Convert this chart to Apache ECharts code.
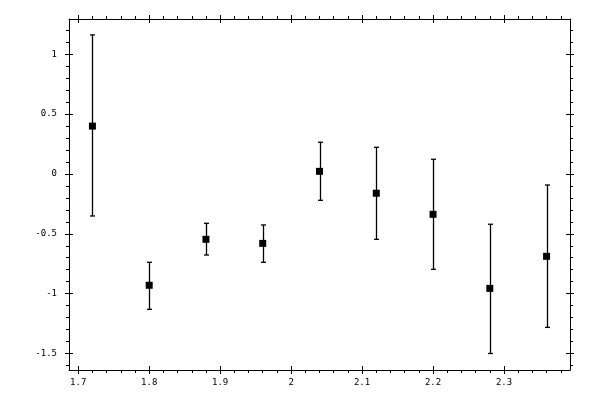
<!DOCTYPE html>
<html>
<head>
<meta charset="utf-8">
<script src="https://cdn.jsdelivr.net/npm/echarts@6/dist/echarts.min.js"></script>
<style>
  html, body { margin: 0; padding: 0; background: #fff; }
  #main { width: 600px; height: 400px; }
</style>
</head>
<body>
<div id="main"></div>
<script>
var xValues = [1.72, 1.80, 1.88, 1.96, 2.04, 2.12, 2.20, 2.28, 2.36];
var yValues = [0.40, -0.93, -0.546, -0.58, 0.022, -0.161, -0.337, -0.956, -0.688];
var yUpper  = [1.162, -0.738, -0.412, -0.426, 0.265, 0.223, 0.123, -0.42, -0.092];
var yLower  = [-0.351, -1.131, -0.677, -0.738, -0.22, -0.546, -0.797, -1.5, -1.282];

var xTicks = [1.7, 1.8, 1.9, 2.0, 2.1, 2.2, 2.3];
var yTicks = [-1.5, -1, -0.5, 0, 0.5, 1];
var xMinorTicks = [1.70, 1.72, 1.74, 1.76, 1.78, 1.80, 1.82, 1.84, 1.86, 1.88, 1.90, 1.92,
    1.94, 1.96, 1.98, 2.00, 2.02, 2.04, 2.06, 2.08, 2.10, 2.12, 2.14, 2.16, 2.18, 2.20,
    2.22, 2.24, 2.26, 2.28, 2.30, 2.32, 2.34, 2.36, 2.38];
var yMinorTicks = [-1.6, -1.5, -1.4, -1.3, -1.2, -1.1, -1.0, -0.9, -0.8, -0.7, -0.6, -0.5,
    -0.4, -0.3, -0.2, -0.1, 0, 0.1, 0.2, 0.3, 0.4, 0.5, 0.6, 0.7, 0.8, 0.9, 1.0, 1.1, 1.2];

var X_MIN = 1.687, X_MAX = 2.393;
var Y_MIN = -1.638, Y_MAX = 1.295;

var chart = echarts.init(document.getElementById('main'), null, {renderer: 'canvas'});

var labelFont = {
    color: '#000',
    fontFamily: 'DejaVu Sans Mono',
    fontSize: 9
};

// one axis = one set of ticks (major out / major in / minor out)
function xAx(pos, kind) {
    var ax = {
        type: 'value', position: pos, min: X_MIN, max: X_MAX,
        splitLine: {show: false},
        axisLine: {show: kind === 'major', onZero: false, lineStyle: {color: '#000', width: 1}},
        axisLabel: {show: false},
        axisTick: {
            show: true,
            inside: kind === 'in',
            length: kind === 'minor' ? 3 : 4,
            customValues: kind === 'minor' ? xMinorTicks : xTicks,
            lineStyle: {color: '#000', width: 1}
        }
    };
    if (kind === 'major' && pos === 'bottom') {
        ax.axisLabel = Object.assign({show: true, margin: 8, customValues: xTicks}, labelFont);
    }
    return ax;
}

function yAx(pos, kind) {
    var ax = {
        type: 'value', position: pos, min: Y_MIN, max: Y_MAX,
        splitLine: {show: false},
        axisLine: {show: kind === 'major', onZero: false, lineStyle: {color: '#000', width: 1}},
        axisLabel: {show: false},
        axisTick: {
            show: true,
            inside: kind === 'in',
            length: kind === 'minor' ? 3 : 4,
            customValues: kind === 'minor' ? yMinorTicks : yTicks,
            lineStyle: {color: '#000', width: 1}
        }
    };
    if (kind === 'major' && pos === 'left') {
        ax.axisLabel = Object.assign({show: true, margin: 12, customValues: yTicks}, labelFont);
    }
    return ax;
}

var pts = [];
var bars = [];
for (var i = 0; i < xValues.length; i++) {
    pts.push([xValues[i], yValues[i]]);
    bars.push([xValues[i], yLower[i], yUpper[i]]);
}

var option = {
    animation: false,
    backgroundColor: '#fff',
    grid: {left: 69, right: 30, top: 19, bottom: 30, containLabel: false},
    xAxis: [
        xAx('bottom', 'major'), xAx('bottom', 'in'), xAx('bottom', 'minor'),
        xAx('top', 'major'), xAx('top', 'in'), xAx('top', 'minor')
    ],
    yAxis: [
        yAx('left', 'major'), yAx('left', 'in'), yAx('left', 'minor'),
        yAx('right', 'major'), yAx('right', 'in'), yAx('right', 'minor')
    ],
    series: [
        {
            type: 'custom',
            xAxisIndex: 0,
            yAxisIndex: 0,
            data: bars,
            renderItem: function (params, api) {
                var lo = api.coord([api.value(0), api.value(1)]);
                var hi = api.coord([api.value(0), api.value(2)]);
                var x = Math.round(lo[0]) + 0.5;
                var style = {stroke: '#000', lineWidth: 1.3};
                return {
                    type: 'group',
                    children: [
                        {type: 'line', shape: {x1: x, y1: hi[1], x2: x, y2: lo[1]}, style: style},
                        {type: 'line', shape: {x1: x - 2.5, y1: hi[1], x2: x + 2.5, y2: hi[1]}, style: style},
                        {type: 'line', shape: {x1: x - 2.5, y1: lo[1], x2: x + 2.5, y2: lo[1]}, style: style}
                    ]
                };
            },
            z: 2
        },
        {
            type: 'scatter',
            xAxisIndex: 0,
            yAxisIndex: 0,
            symbol: 'rect',
            symbolSize: 7,
            itemStyle: {color: '#000', opacity: 1},
            data: pts,
            z: 3
        }
    ]
};

chart.setOption(option);
</script>
</body>
</html>
